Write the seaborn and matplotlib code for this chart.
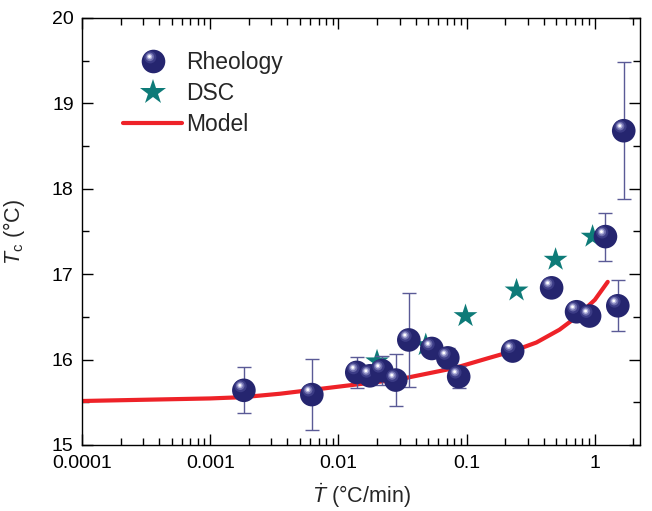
import numpy as np
import pandas as pd
import matplotlib
matplotlib.use("Agg")
import matplotlib.pyplot as plt
import seaborn as sns
from matplotlib.path import Path
from matplotlib.markers import MarkerStyle
from matplotlib.lines import Line2D
from matplotlib.legend_handler import HandlerTuple
from matplotlib.ticker import FixedLocator, LogLocator, NullFormatter, FuncFormatter, MultipleLocator

# ---------------- data ----------------
rheo_rate = [0.00183, 0.0062, 0.0139, 0.0176, 0.0218, 0.028, 0.0354, 0.0535, 0.0713,
             0.0867, 0.2285, 0.46, 0.72, 0.91, 1.21, 1.51, 1.68]
rheo_tc = [15.64, 15.59, 15.85, 15.81, 15.87, 15.76, 16.23, 16.13, 16.02,
           15.80, 16.10, 16.84, 16.56, 16.51, 17.44, 16.63, 18.68]
rheo_err = [0.27, 0.42, 0.18, 0.10, 0.17, 0.30, 0.55, 0.08, 0.12,
            0.13, 0.05, 0.05, 0.05, 0.05, 0.28, 0.30, 0.80]

dsc_rate = [0.020, 0.048, 0.098, 0.245, 0.494, 0.96]
dsc_tc = [15.98, 16.17, 16.51, 16.81, 17.17, 17.44]

model_rate = [0.0001, 0.001, 0.0018, 0.0035, 0.0085, 0.03, 0.08, 0.15, 0.23, 0.35,
              0.53, 0.72, 1.0, 1.26]
model_tc = [15.515, 15.545, 15.56, 15.60, 15.67, 15.77, 15.90, 16.02, 16.10, 16.20,
            16.35, 16.50, 16.70, 16.91]

xtick_vals = [0.0001, 0.001, 0.01, 0.1, 1]
xtick_labels = ["0.0001", "0.001", "0.01", "0.1", "1"]
ytick_vals = [15, 16, 17, 18, 19, 20]

rheo = pd.DataFrame({"rate": rheo_rate, "tc": rheo_tc, "err": rheo_err})
dsc = pd.DataFrame({"rate": dsc_rate, "tc": dsc_tc})
model = pd.DataFrame({"rate": model_rate, "tc": model_tc})

# ---------------- style ----------------
sns.set_theme(style="ticks")
plt.rcParams["font.family"] = ["Liberation Sans", "DejaVu Sans"]
plt.rcParams["mathtext.fontset"] = "custom"
plt.rcParams["mathtext.rm"] = "Liberation Sans"
plt.rcParams["mathtext.it"] = "Liberation Sans:italic"
plt.rcParams["mathtext.bf"] = "Liberation Sans:bold"

NAVY = "#25256f"
TEAL = "#0e7b78"
RED = "#ee2228"
ERR = "#5a5a96"
TICK_FS = 14
LABEL_FS = 15.5
LEG_FS = 16.5


def hl_marker(cx, cy, r):
    c = Path.circle((cx, cy), r)
    verts = np.vstack([c.vertices, [[1.0, 1.0], [-1.0, -1.0]]])
    codes = np.concatenate([c.codes, [Path.MOVETO, Path.MOVETO]])
    return MarkerStyle(Path(verts, codes))


layers = [
    ("o", NAVY),
    (hl_marker(-0.28, 0.36, 0.52), "#3c3c86"),
    (hl_marker(-0.31, 0.39, 0.36), "#6e6eac"),
    (hl_marker(-0.33, 0.41, 0.23), "#b4b4de"),
    (hl_marker(-0.34, 0.42, 0.12), "#ffffff"),
]
MS = 17

fig = plt.figure(figsize=(6.52, 5.11), dpi=100)
ax = fig.add_axes([0.1258, 0.1292, 0.9816 - 0.1258, 0.9648 - 0.1292])
ax.set_xscale("log")

# model line
sns.lineplot(data=model, x="rate", y="tc", ax=ax, color=RED, lw=3.0, zorder=2, legend=False)

# DSC stars
sns.scatterplot(data=dsc, x="rate", y="tc", ax=ax, marker="*", s=18 ** 2, color=TEAL,
                edgecolor="none", linewidth=0, zorder=3, legend=False)

# rheology error bars
ax.errorbar(rheo["rate"], rheo["tc"], yerr=rheo["err"], fmt="none", ecolor=ERR,
            elinewidth=1.0, capsize=5, capthick=1.0, zorder=3.5)

# rheology spheres (layered shading)
for i in range(len(rheo)):
    row = rheo.iloc[[i]]
    for j, (m, c) in enumerate(layers):
        sns.scatterplot(data=row, x="rate", y="tc", ax=ax, marker=m, s=MS ** 2, color=c,
                        edgecolor="none", linewidth=0, zorder=4 + 0.01 * i + 0.001 * j,
                        legend=False)

ax.set_xlim(1e-4, 2.25)
ax.set_ylim(15, 20)

# ticks
ax.xaxis.set_major_locator(FixedLocator(xtick_vals))
ax.xaxis.set_major_formatter(FuncFormatter(lambda v, p: xtick_labels[xtick_vals.index(v)] if v in xtick_vals else ""))
ax.xaxis.set_minor_locator(LogLocator(base=10, subs=np.arange(2, 10)))
ax.xaxis.set_minor_formatter(NullFormatter())
ax.yaxis.set_major_locator(FixedLocator(ytick_vals))
ax.yaxis.set_minor_locator(MultipleLocator(0.5))
ax.tick_params(which="both", direction="in", top=True, right=True, colors="black",
               labelsize=TICK_FS, width=1.0)
ax.tick_params(which="major", length=8)
ax.tick_params(which="minor", length=5)
ax.tick_params(axis="x", which="major", pad=7)
ax.tick_params(axis="y", which="major", pad=6)
for s in ax.spines.values():
    s.set_linewidth(1.0)
    s.set_color("black")

ax.set_xlabel(r"$\dot{T}$ (°C/min)", fontsize=LABEL_FS, labelpad=7)
ax.set_ylabel(r"$T_{\mathrm{c}}$ (°C)", fontsize=LABEL_FS, labelpad=18)

# legend
sphere_handle = tuple(Line2D([], [], ls="none", marker=m, markersize=MS, markerfacecolor=c,
                             markeredgewidth=0) for m, c in layers)
star_handle = Line2D([], [], ls="none", marker="*", markersize=19, markerfacecolor=TEAL,
                     markeredgewidth=0)
line_handle = Line2D([], [], color=RED, lw=3.0)
ax.legend([sphere_handle, star_handle, line_handle], ["Rheology", "DSC", "Model"],
          handler_map={tuple: HandlerTuple(ndivide=1, pad=0)},
          loc="upper left", bbox_to_anchor=(0.037, 0.972), frameon=False, fontsize=LEG_FS,
          handlelength=2.55, handletextpad=0.2, labelspacing=0.36)

fig.savefig("out.png", dpi=100)
